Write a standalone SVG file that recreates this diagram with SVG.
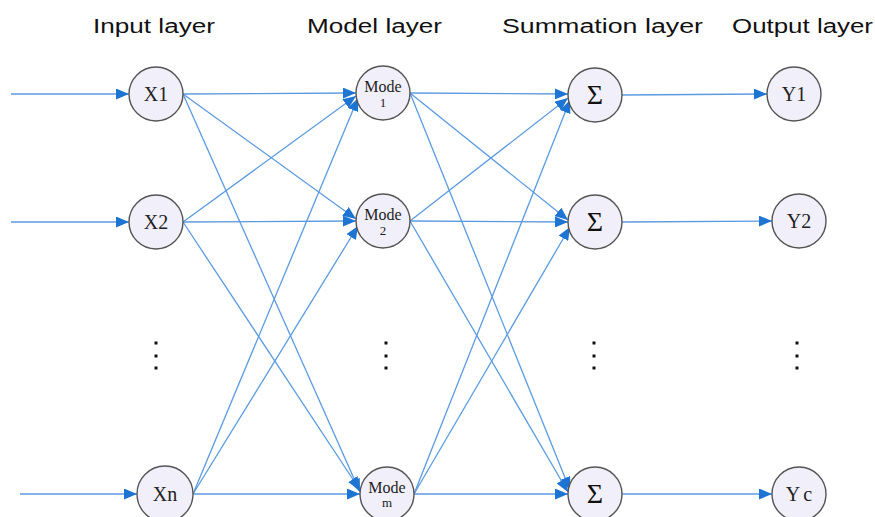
<svg xmlns="http://www.w3.org/2000/svg" width="875" height="517" viewBox="0 0 875 517">
  <style>
    .title { font-family: "Liberation Sans", Arial, sans-serif; font-size: 20px; fill: #111; }
    .node circle { fill: #f1eff9; stroke: #555; stroke-width: 1.4; }
    .lbl { font-family: "Liberation Serif", "Times New Roman", serif; font-size: 20px; fill: #222; text-anchor: middle; }
    .mode { font-family: "Liberation Serif", "Times New Roman", serif; font-size: 16px; fill: #222; text-anchor: middle; }
    .sub { font-family: "Liberation Serif", "Times New Roman", serif; font-size: 13px; fill: #222; text-anchor: middle; }
    .sig { font-family: "Liberation Serif", "Times New Roman", serif; font-size: 28px; fill: #111; text-anchor: middle; }
    .edges line { stroke: #5c9ae0; stroke-width: 1.3; fill: none; marker-end: url(#arr); }
    .dot { fill: #111; }
  </style>
  <defs>
    <marker id="arr" viewBox="0 0 13 11" refX="13" refY="5.5" markerWidth="13" markerHeight="11" markerUnits="userSpaceOnUse" orient="auto">
      <path d="M0,0 L13,5.5 L0,11 Z" fill="#1e74d2"/>
    </marker>
  </defs>

  <rect width="875" height="517" fill="#fff"/>

  <!-- column titles -->
  <text class="title" x="93" y="33" textLength="122" lengthAdjust="spacingAndGlyphs">Input layer</text>
  <text class="title" x="307" y="33" textLength="135" lengthAdjust="spacingAndGlyphs">Model layer</text>
  <text class="title" x="502" y="33" textLength="201" lengthAdjust="spacingAndGlyphs">Summation layer</text>
  <text class="title" x="732" y="33" textLength="141" lengthAdjust="spacingAndGlyphs">Output layer</text>

  <!-- connectors -->
  <g id="connectors" class="edges">
    <!-- external inputs -->
    <line x1="11" y1="94" x2="129" y2="94"/>
    <line x1="11" y1="222" x2="129" y2="222"/>
    <line x1="20" y1="494" x2="137" y2="494"/>
    <!-- input layer to model layer -->
    <line x1="183" y1="94" x2="356" y2="93"/>
    <line x1="183" y1="94" x2="356" y2="219"/>
    <line x1="183" y1="94" x2="360" y2="492"/>
    <line x1="183" y1="222" x2="356" y2="96"/>
    <line x1="183" y1="222" x2="356" y2="221"/>
    <line x1="183" y1="222" x2="360" y2="490"/>
    <line x1="193" y1="494" x2="358" y2="98"/>
    <line x1="193" y1="494" x2="358" y2="226"/>
    <line x1="193" y1="494" x2="360" y2="494"/>
    <!-- model layer to summation layer -->
    <line x1="410" y1="93" x2="568" y2="94"/>
    <line x1="410" y1="93" x2="568" y2="220"/>
    <line x1="410" y1="93" x2="570" y2="490"/>
    <line x1="410" y1="221" x2="568" y2="98"/>
    <line x1="410" y1="221" x2="568" y2="222"/>
    <line x1="410" y1="221" x2="568" y2="492"/>
    <line x1="414" y1="494" x2="570" y2="100"/>
    <line x1="414" y1="494" x2="570" y2="227"/>
    <line x1="414" y1="494" x2="568" y2="494"/>
    <!-- summation layer to output layer -->
    <line x1="622" y1="95" x2="767" y2="94"/>
    <line x1="622" y1="222" x2="772" y2="221"/>
    <line x1="622" y1="494" x2="772" y2="494"/>
  </g>

  <!-- input layer -->
  <g id="x1" class="node"><circle cx="156" cy="94" r="27"/><text class="lbl" x="156" y="101">X1</text></g>
  <g id="x2" class="node"><circle cx="156" cy="222" r="27"/><text class="lbl" x="156" y="229">X2</text></g>
  <g id="xn" class="node"><circle cx="165" cy="494" r="28"/><text class="lbl" x="165" y="501">Xn</text></g>

  <!-- model layer -->
  <g id="mode1" class="node"><circle cx="383" cy="93" r="27"/><text class="mode" x="383" y="92">Mode</text><text class="sub" x="383" y="107">1</text></g>
  <g id="mode2" class="node"><circle cx="383" cy="221" r="27"/><text class="mode" x="383" y="220">Mode</text><text class="sub" x="383" y="235">2</text></g>
  <g id="modem" class="node"><circle cx="387" cy="494" r="27"/><text class="mode" x="387" y="493">Mode</text><text class="sub" x="387" y="507">m</text></g>

  <!-- summation layer -->
  <g id="sum1" class="node"><circle cx="595" cy="95" r="27"/><text class="sig" x="595" y="104">Σ</text></g>
  <g id="sum2" class="node"><circle cx="595" cy="222" r="27"/><text class="sig" x="595" y="231">Σ</text></g>
  <g id="sumc" class="node"><circle cx="595" cy="494" r="27"/><text class="sig" x="595" y="503">Σ</text></g>

  <!-- output layer -->
  <g id="y1" class="node"><circle cx="794" cy="94" r="27"/><text class="lbl" x="794" y="101">Y1</text></g>
  <g id="y2" class="node"><circle cx="799" cy="221" r="27"/><text class="lbl" x="799" y="228">Y2</text></g>
  <g id="yc" class="node"><circle cx="799" cy="494" r="27"/><text class="lbl" x="799" y="501">Y<tspan dx="3">c</tspan></text></g>

  <!-- ellipsis dots -->
  <g id="ellipses" class="dot">
    <rect x="154.5" y="341.5" width="3" height="3"/><rect x="154.5" y="354.5" width="3" height="3"/><rect x="154.5" y="366.5" width="3" height="3"/>
    <rect x="384.5" y="341.5" width="3" height="3"/><rect x="384.5" y="354.5" width="3" height="3"/><rect x="384.5" y="366.5" width="3" height="3"/>
    <rect x="592.5" y="341.5" width="3" height="3"/><rect x="592.5" y="354.5" width="3" height="3"/><rect x="592.5" y="366.5" width="3" height="3"/>
    <rect x="795.5" y="341.5" width="3" height="3"/><rect x="795.5" y="354.5" width="3" height="3"/><rect x="795.5" y="366.5" width="3" height="3"/>
  </g>
</svg>
